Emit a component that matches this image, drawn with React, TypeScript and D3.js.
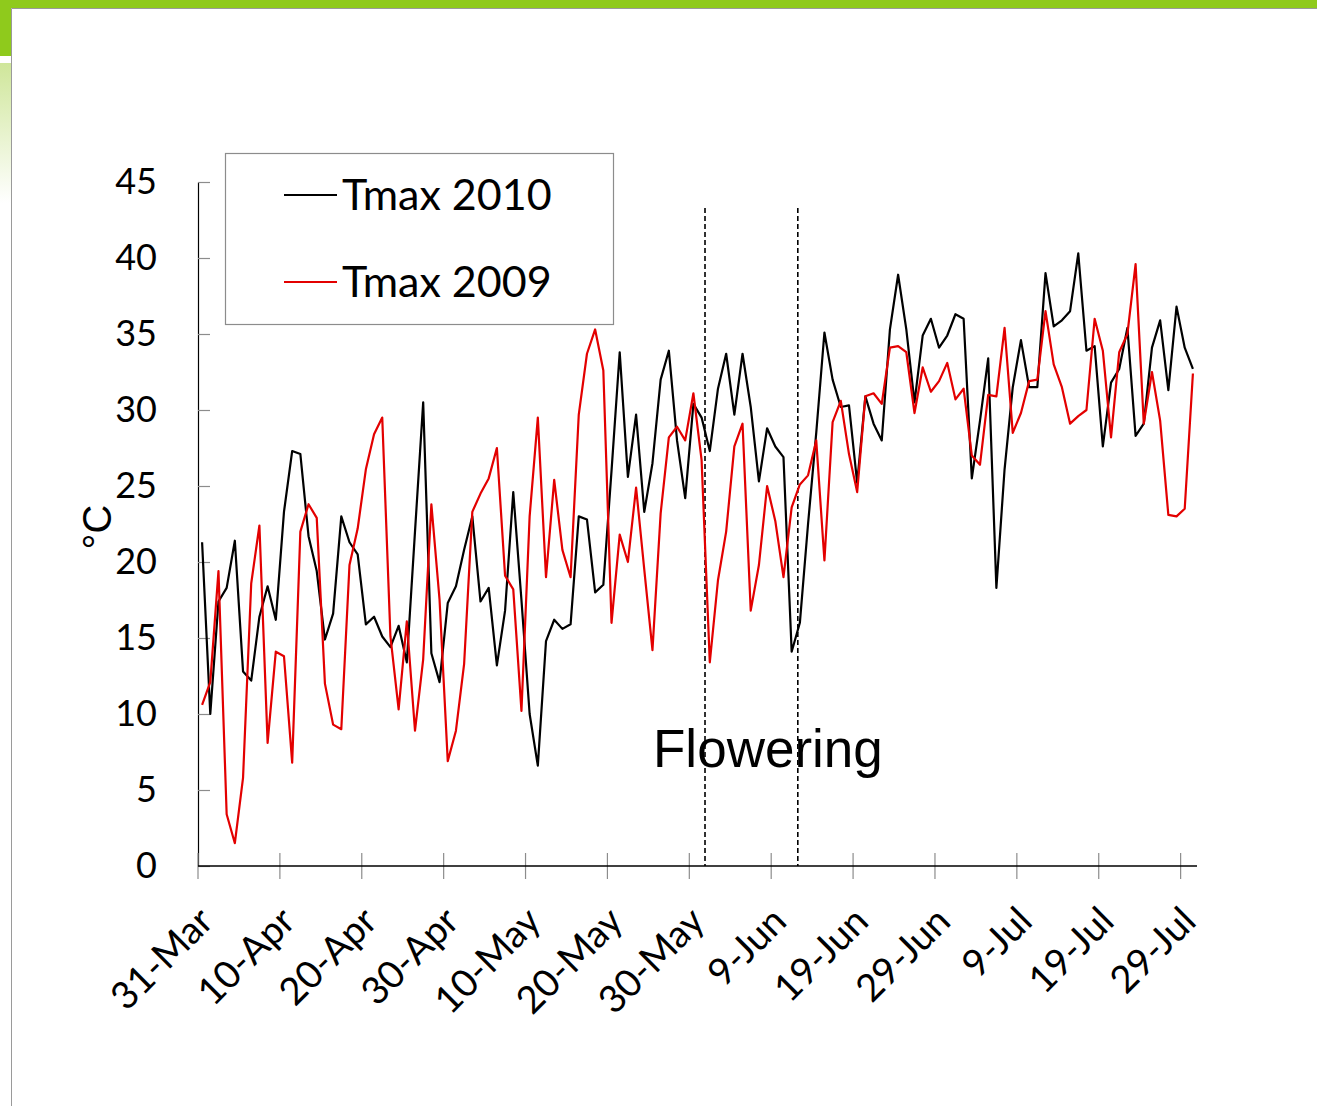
import React from "react";
import { select, scaleUtc, scaleLinear, line, utcParse, utcDay, axisLeft } from "d3";

// first day of both series, one reading per day
const startDay = "31-Mar-2010";

const tmax2010 = [
  21.3, 10.0, 17.4, 18.3, 21.4, 12.8, 12.2, 16.4, 18.4, 16.2,
  23.3, 27.3, 27.1, 21.7, 19.4, 14.9, 16.6, 23.0, 21.3, 20.5,
  15.9, 16.4, 15.1, 14.4, 15.8, 13.4, 22.0, 30.5, 14.0, 12.1,
  17.3, 18.4, 20.8, 23.0, 17.4, 18.3, 13.2, 16.8, 24.6, 17.5,
  10.0, 6.6, 14.8, 16.2, 15.6, 15.9, 23.0, 22.8, 18.0, 18.5,
  26.0, 33.8, 25.6, 29.7, 23.3, 26.5, 32.0, 33.9, 28.0, 24.2,
  30.4, 29.5, 27.3, 31.4, 33.7, 29.7, 33.7, 30.2, 25.3, 28.8,
  27.6, 26.9, 14.1, 16.0, 22.5, 28.5, 35.1, 32.0, 30.2, 30.3,
  25.2, 30.9, 29.1, 28.0, 35.3, 38.9, 35.3, 30.5, 34.9, 36.0,
  34.1, 34.9, 36.3, 36.0, 25.5, 29.3, 33.4, 18.3, 26.1, 31.5,
  34.6, 31.5, 31.5, 39.0, 35.5, 35.9, 36.5, 40.3, 33.9, 34.2,
  27.6, 31.8, 32.7, 35.4, 28.3, 29.1, 34.1, 35.9, 31.3, 36.8,
  34.1, 32.7,
];

const tmax2009 = [
  10.6, 12.1, 19.4, 3.4, 1.5, 5.8, 18.6, 22.4, 8.1, 14.1,
  13.8, 6.8, 22.0, 23.8, 22.9, 12.0, 9.3, 9.0, 19.8, 22.2,
  26.1, 28.4, 29.5, 15.1, 10.3, 16.1, 8.9, 13.6, 23.8, 17.5,
  6.9, 8.9, 13.3, 23.3, 24.5, 25.5, 27.5, 19.1, 18.2, 10.2,
  23.0, 29.5, 19.0, 25.4, 20.8, 19.0, 29.7, 33.7, 35.3, 32.6,
  16.0, 21.8, 20.0, 24.9, 19.5, 14.2, 23.2, 28.2, 28.9, 28.0,
  31.1, 26.7, 13.4, 18.8, 22.0, 27.6, 29.1, 16.8, 19.8, 25.0,
  22.7, 19.0, 23.6, 25.1, 25.7, 28.0, 20.1, 29.2, 30.6, 27.1,
  24.6, 30.9, 31.1, 30.4, 34.1, 34.2, 33.8, 29.8, 32.8, 31.2,
  31.9, 33.1, 30.7, 31.4, 27.0, 26.4, 31.0, 30.9, 35.4, 28.5,
  29.8, 31.9, 32.0, 36.5, 33.0, 31.5, 29.1, 29.6, 30.0, 36.0,
  33.9, 28.2, 33.8, 35.0, 39.6, 29.1, 32.5, 29.3, 23.1, 23.0,
  23.5, 32.4,
];

const tickLabels = [
  "31-Mar", "10-Apr", "20-Apr", "30-Apr", "10-May", "20-May", "30-May",
  "9-Jun", "19-Jun", "29-Jun", "9-Jul", "19-Jul", "29-Jul",
];
const yTicks = [0, 5, 10, 15, 20, 25, 30, 35, 40, 45];
const seriesNames = ["Tmax 2010", "Tmax 2009"];
const floweringBounds = ["31-May-2010 22:00", "12-Jun-2010 06:00"];

const W = 1317;
const H = 1106;
const plot = { left: 198, right: 1197, top: 182, bottom: 866 };
const RED = "#e30000";

export default function App() {
  const svgRef = React.useRef<SVGSVGElement>(null);

  React.useEffect(() => {
    const svg = select(svgRef.current);
    const parseDay = utcParse("%d-%b-%Y");
    const parseTime = utcParse("%d-%b-%Y %H:%M");
    const start = parseDay(startDay) as Date;

    const x = scaleUtc()
      .domain([start, utcDay.offset(start, tmax2010.length)])
      .range([plot.left, plot.right]);
    const y = scaleLinear().domain([0, 45]).range([plot.bottom, plot.top]);

    // Excel puts each point in the middle of its day
    const dayMid = (i: number) => new Date(start.getTime() + (i + 0.5) * 864e5);

    // slide decoration
    const defs = svg.append("defs");
    const grad = defs
      .append("linearGradient")
      .attr("id", "fade")
      .attr("x1", 0)
      .attr("y1", 0)
      .attr("x2", 0)
      .attr("y2", 1);
    grad.append("stop").attr("offset", "0%").attr("stop-color", "#cfe69a");
    grad.append("stop").attr("offset", "100%").attr("stop-color", "#ffffff");

    svg.append("rect").attr("width", W).attr("height", H).attr("fill", "#fff");
    svg.append("rect").attr("width", W).attr("height", 8).attr("fill", "#8fca1c");
    svg.append("rect").attr("width", 11).attr("height", 56).attr("fill", "#8fca1c");
    svg
      .append("rect")
      .attr("y", 63)
      .attr("width", 11)
      .attr("height", 140)
      .attr("fill", "url(#fade)");
    svg
      .append("path")
      .attr("d", `M11.5,${H} V8.5 H${W}`)
      .attr("fill", "none")
      .attr("stroke", "#9a9a9a");

    // y axis
    const yAxis = svg
      .append("g")
      .attr("transform", `translate(${plot.left},0)`)
      .call(
        axisLeft(y)
          .tickValues(yTicks)
          .tickSizeInner(-12)
          .tickSizeOuter(0)
          .tickPadding(41)
      );
    yAxis.select(".domain").attr("stroke", "#000").attr("stroke-width", 1.2);
    yAxis.selectAll(".tick line").attr("stroke", "#8c8c8c").attr("stroke-width", 1.2);
    yAxis
      .selectAll(".tick text")
      .attr("font-family", "Lato, sans-serif")
      .attr("font-size", 36)
      .attr("fill", "#000");

    // x axis
    const xg = svg.append("g");
    const tickDates = tickLabels.map((t) => parseDay(`${t}-2010`) as Date);
    xg.selectAll("line.tick")
      .data(tickDates)
      .join("line")
      .attr("class", "tick")
      .attr("x1", (d) => x(d))
      .attr("x2", (d) => x(d))
      .attr("y1", plot.bottom - 13)
      .attr("y2", plot.bottom + 13)
      .attr("stroke", "#8c8c8c")
      .attr("stroke-width", 1.2);
    xg.append("line")
      .attr("x1", plot.left)
      .attr("x2", plot.right)
      .attr("y1", plot.bottom)
      .attr("y2", plot.bottom)
      .attr("stroke", "#000")
      .attr("stroke-width", 1.4);
    xg.selectAll("text")
      .data(tickDates)
      .join("text")
      .attr("transform", (d) => `translate(${x(d) + 8},${plot.bottom + 48}) rotate(-45)`)
      .attr("text-anchor", "end")
      .attr("dy", "0.35em")
      .attr("font-family", "Lato, sans-serif")
      .attr("font-size", 38)
      .text((_, i) => tickLabels[i]);

    svg
      .append("text")
      .attr("transform", `translate(111,527) rotate(-90)`)
      .attr("text-anchor", "middle")
      .attr("font-family", "Liberation Sans, Arial, sans-serif")
      .attr("font-size", 40)
      .text("°C");

    // flowering period
    floweringBounds.forEach((b) => {
      const bx = x(parseTime(b) as Date);
      svg
        .append("line")
        .attr("x1", bx)
        .attr("x2", bx)
        .attr("y1", 208)
        .attr("y2", plot.bottom)
        .attr("stroke", "#000")
        .attr("stroke-width", 1.6)
        .attr("stroke-dasharray", "5,3");
    });

    const path = line<number>()
      .x((_, i) => x(dayMid(i)))
      .y((d) => y(d));

    svg
      .append("path")
      .datum(tmax2010)
      .attr("d", path)
      .attr("fill", "none")
      .attr("stroke", "#000")
      .attr("stroke-width", 2.2)
      .attr("stroke-linejoin", "round");
    svg
      .append("path")
      .datum(tmax2009)
      .attr("d", path)
      .attr("fill", "none")
      .attr("stroke", RED)
      .attr("stroke-width", 2.2)
      .attr("stroke-linejoin", "round");

    svg
      .append("text")
      .attr("x", 653)
      .attr("y", 767)
      .attr("font-family", "Liberation Sans, Arial, sans-serif")
      .attr("font-size", 53)
      .text("Flowering");

    // legend
    const lg = svg.append("g");
    lg.append("rect")
      .attr("x", 225.5)
      .attr("y", 153.5)
      .attr("width", 388)
      .attr("height", 171)
      .attr("fill", "#fff")
      .attr("stroke", "#8c8c8c")
      .attr("stroke-width", 1.2);
    [0, 1].forEach((k) => {
      const ly = k === 0 ? 195 : 282;
      lg.append("line")
        .attr("x1", 284)
        .attr("x2", 337)
        .attr("y1", ly)
        .attr("y2", ly)
        .attr("stroke", k === 0 ? "#000" : RED)
        .attr("stroke-width", 2.2);
      lg.append("text")
        .attr("x", 342)
        .attr("y", ly + 15)
        .attr("font-family", "Lato, sans-serif")
        .attr("font-size", 43)
        .text(seriesNames[k]);
    });

    return () => {
      svg.selectAll("*").remove();
    };
  }, []);

  return (
    <svg
      ref={svgRef}
      width={W}
      height={H}
      style={{ position: "absolute", left: 0, top: 0 }}
    />
  );
}
